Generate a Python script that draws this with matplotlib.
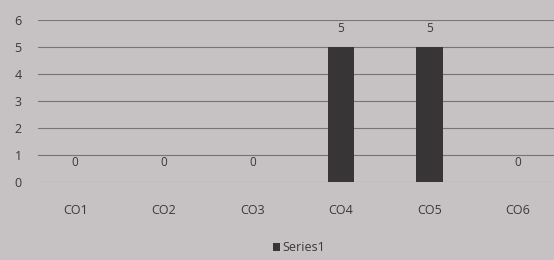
import matplotlib
matplotlib.use("Agg")
import matplotlib.pyplot as plt
import numpy as np

categories = ["CO1", "CO2", "CO3", "CO4", "CO5", "CO6"]
series1 = [0, 0, 0, 5, 5, 0]
y_ticks = [0, 1, 2, 3, 4, 5, 6]

bg = "#c6c2c3"
bar_color = "#373536"
text_color = "#3a3839"

plt.rcParams['font.family'] = ['Open Sans', 'DejaVu Sans']

fig = plt.figure(figsize=(5.54, 2.6), dpi=100, facecolor=bg)
ax = fig.add_axes([0.069, 0.30, 0.931, 0.623], facecolor=bg)

x = np.arange(len(categories))
bars = ax.bar(x, series1, width=0.30, color=bar_color, label="Series1", zorder=3)

# data labels
for xi, v in zip(x, series1):
    ax.annotate(str(v), (xi, v), xytext=(0, 9), textcoords="offset points",
                ha="center", va="bottom", fontsize=8.5, color=text_color)

ax.set_xlim(-0.418, 5.406)
ax.set_ylim(0, 6)
ax.set_yticks(y_ticks)
ax.set_xticks(x)
ax.set_xticklabels(categories)
ax.tick_params(axis="x", length=0, pad=16, labelsize=9, colors=text_color)
ax.tick_params(axis="y", length=0, pad=17, labelsize=9, colors=text_color)
for lbl in ax.get_yticklabels():
    lbl.set_horizontalalignment("left")

ax.grid(axis="y", color="#777475", linewidth=0.8, zorder=0)
for s in ax.spines.values():
    s.set_visible(False)

fig.legend(handles=[bars], labels=["Series1"], loc="lower center",
           bbox_to_anchor=(0.54, -0.02), frameon=False, fontsize=9,
           handlelength=0.6, handleheight=0.6, handletextpad=0.2,
           labelcolor=text_color)

fig.savefig("out.png", dpi=100, facecolor=bg)
